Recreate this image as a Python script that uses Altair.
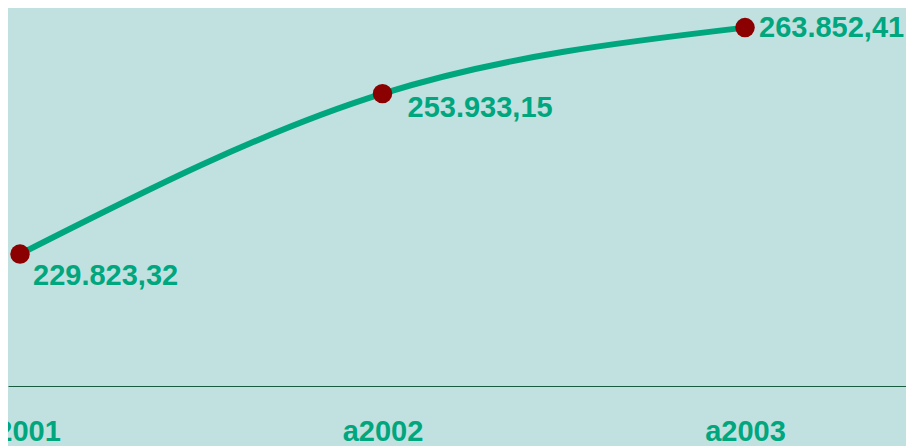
import altair as alt
import pandas as pd

categories = ["a2001", "a2002", "a2003"]
values = [229823.32, 253933.15, 263852.41]


def de_format(v):
    s = f"{v:,.2f}"
    return s.replace(",", "X").replace(".", ",").replace("X", ".")


df = pd.DataFrame({
    "idx": list(range(len(categories))),
    "cat": categories,
    "value": values,
    "label": [de_format(v) for v in values],
})

GREEN = "#00a67e"
RED = "#8b0000"
BG = "#c0e1df"
FONT = "Liberation Sans"

label_expr = "[" + ",".join(f"'{c}'" for c in categories) + "][datum.value]"

x = alt.X(
    "idx:Q",
    scale=alt.Scale(domain=[-0.0331, 2.4441], nice=False, zero=False),
    axis=alt.Axis(
        values=[0, 1, 2], labelExpr=label_expr, title=None, grid=False,
        ticks=False, tickSize=0, labelPadding=31, labelFlush=False,
        labelOverlap=False, labelFont=FONT, labelFontSize=29,
        labelFontWeight="bold", labelColor=GREEN,
        domainColor="#1a5c40", domainWidth=1,
    ),
)
y = alt.Y("value:Q", scale=alt.Scale(domain=[210000, 266800], nice=False, zero=False), axis=None)

base = alt.Chart(df)

line = base.mark_line(interpolate="monotone", color=GREEN, strokeWidth=6).encode(x=x, y=y)
points = base.mark_circle(size=380, color=RED, opacity=1).encode(x=x, y=y)

offsets = [(13, 31), (25, 23), (14, 9)]
texts = []
for i, (dx, dy) in enumerate(offsets):
    texts.append(
        base.transform_filter(alt.datum.idx == i)
        .mark_text(align="left", baseline="alphabetic", dx=dx, dy=dy, font=FONT,
                   fontSize=29, fontWeight="bold", color=GREEN)
        .encode(x=x, y=y, text="label:N")
    )

chart = alt.layer(line, points, *texts).properties(
    width=898,
    height=378,
    autosize=alt.AutoSizeParams(type="none"),
    padding={"left": 0, "top": 0, "right": 0, "bottom": 60},
    background=BG,
).configure_view(stroke=None)

chart.save("out.html", embed_options={"renderer": "svg", "actions": False})
